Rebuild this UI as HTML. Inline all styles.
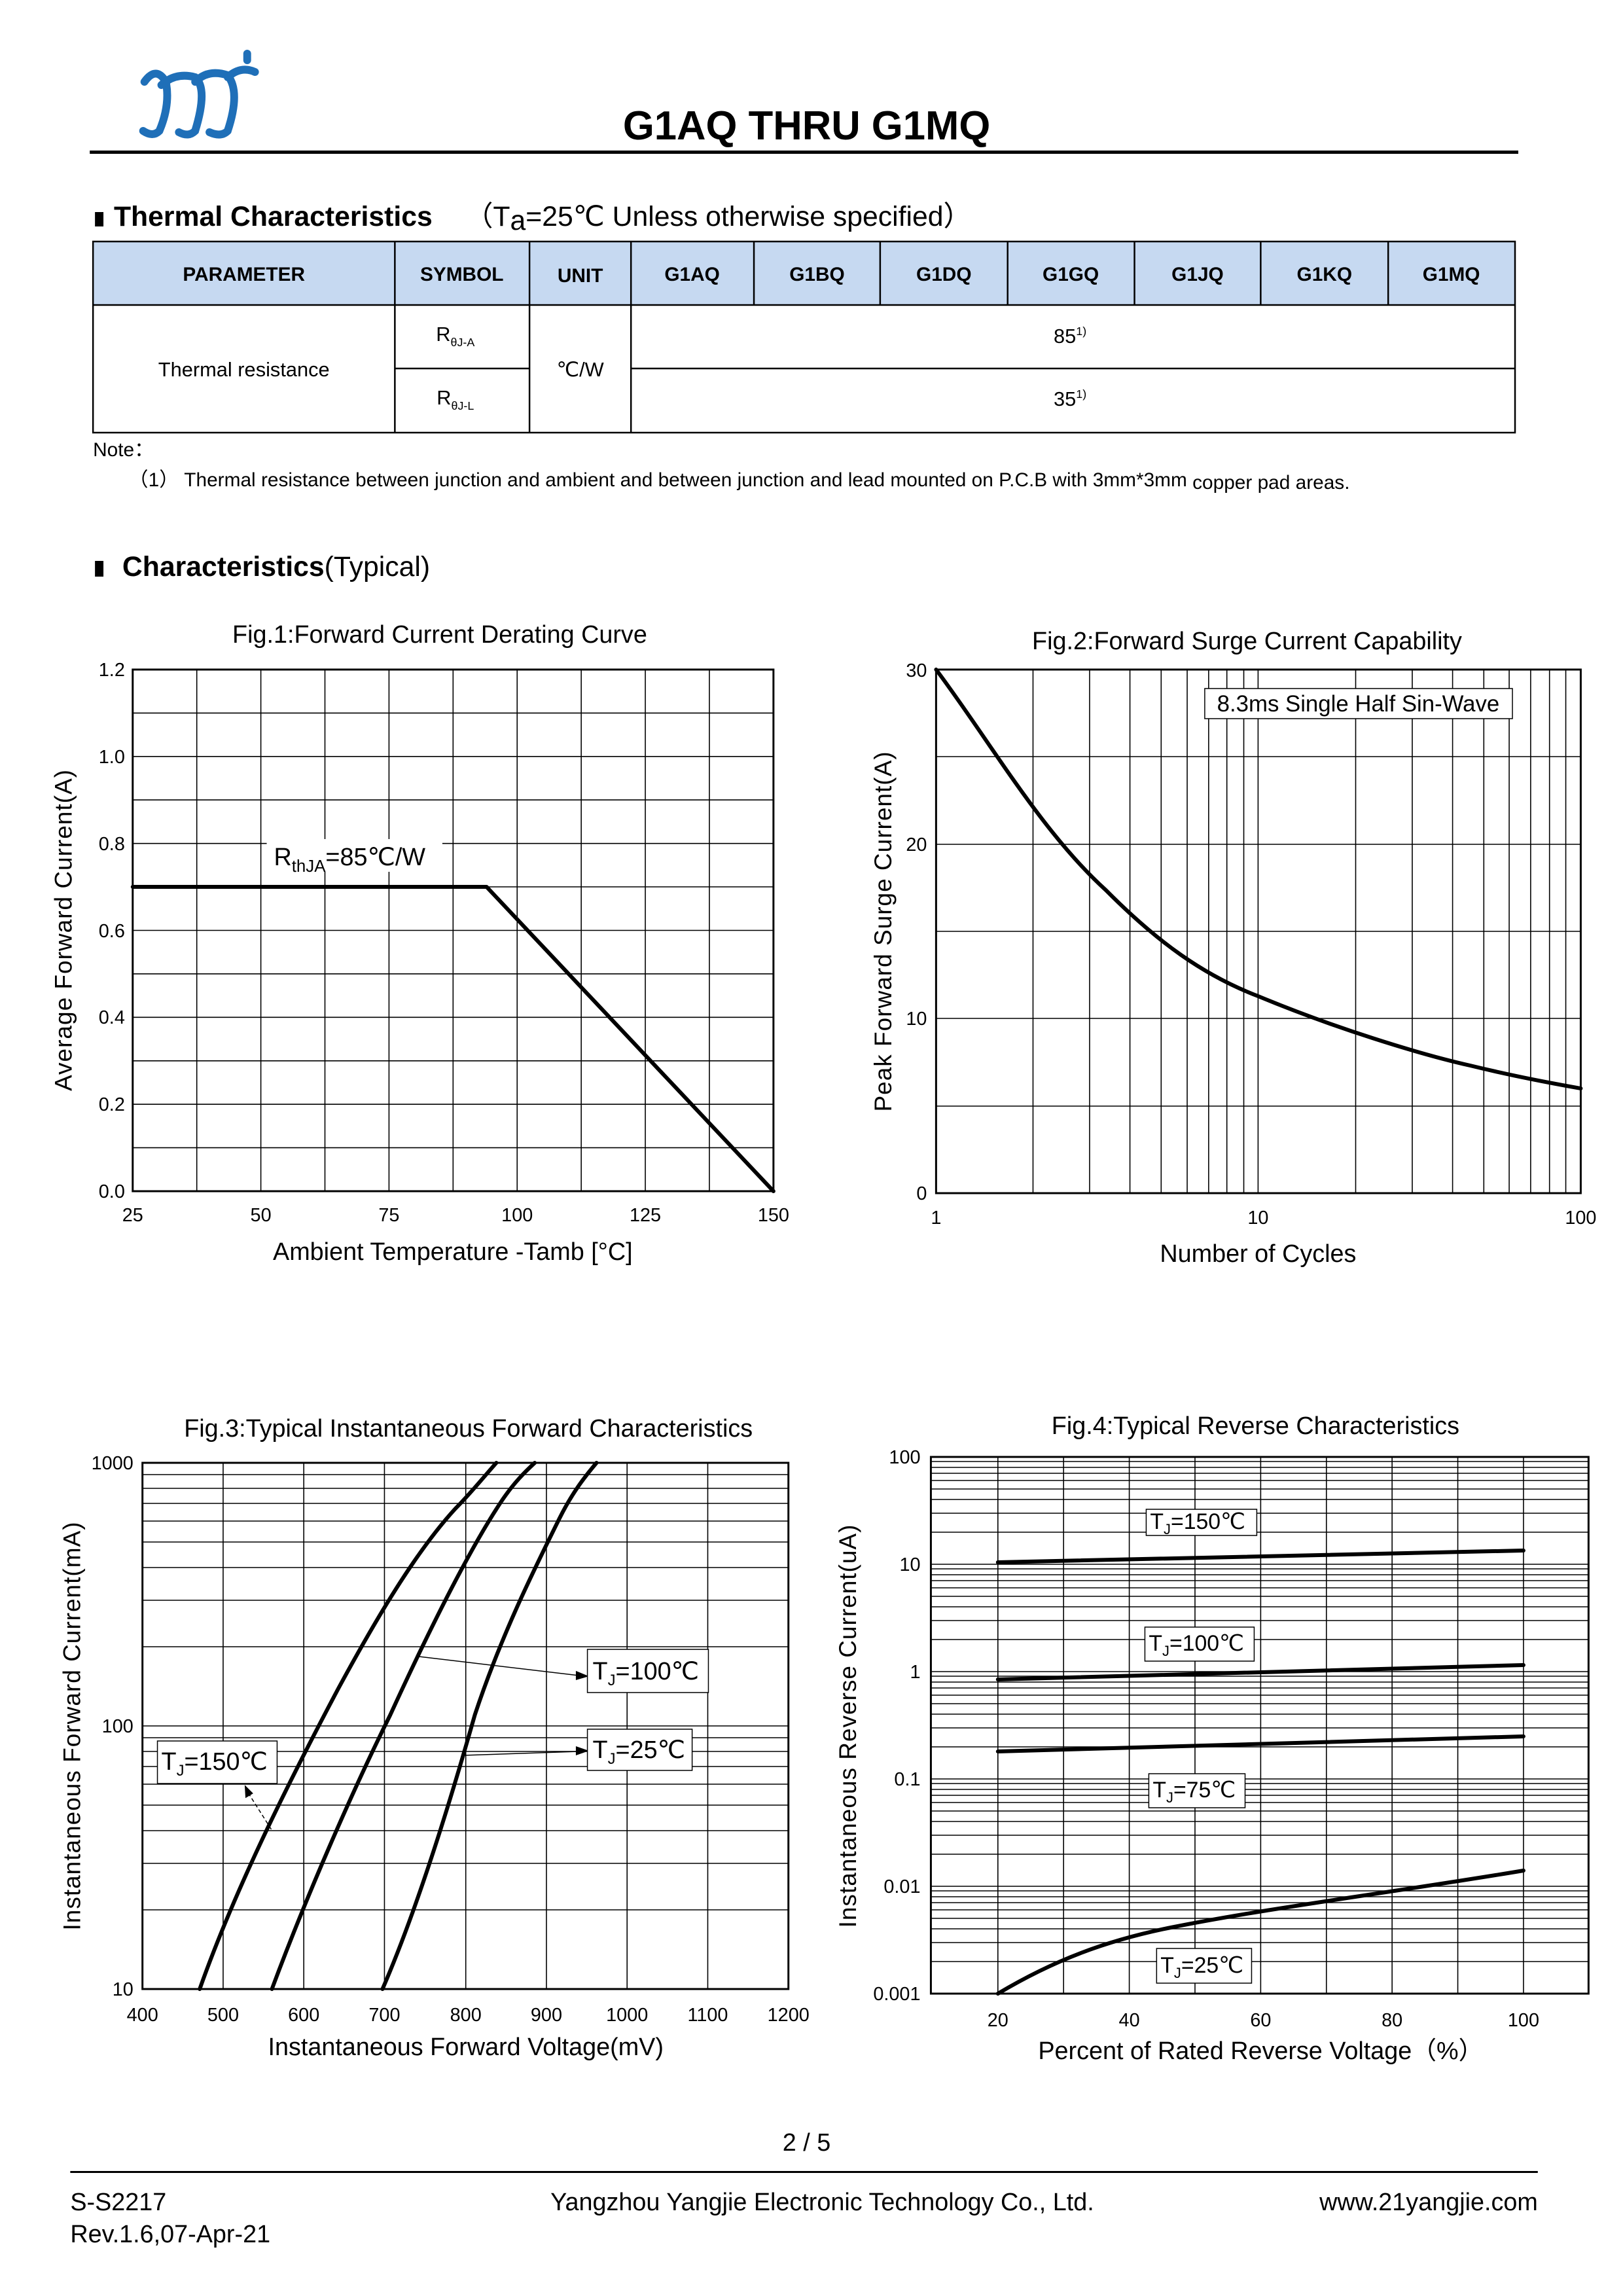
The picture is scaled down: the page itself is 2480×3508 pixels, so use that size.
<!DOCTYPE html>
<html><head><meta charset="utf-8"><style>
html,body{margin:0;padding:0;background:#fff}
svg{display:block}
text{font-family:"Liberation Sans",Arial,sans-serif;fill:#000}
.s{font-family:"Liberation Serif",serif;font-size:29px}
.g{stroke:#000;stroke-width:1.6;fill:none}
.c{stroke:#000;stroke-width:6;fill:none;stroke-linejoin:round;stroke-linecap:round}
</style></head><body>
<svg width="2480" height="3508" viewBox="0 0 2480 3508" xmlns="http://www.w3.org/2000/svg">
<g transform="scale(0.994 1)">
<!-- logo -->
<g stroke="#1f6fb8" stroke-width="12" fill="none" stroke-linecap="round">
<path d="M222 125 Q240 100 255 125 Q262 160 245 200 Q235 210 220 200"/>
<path d="M248 130 Q270 110 300 118 Q320 135 300 200 Q290 210 275 202"/>
<path d="M300 125 Q320 105 350 115 Q370 140 350 200 Q340 210 322 202"/>
<path d="M350 118 Q370 100 392 110"/>
<path d="M380 82 L380 92"/>
</g>
<text x="1240" y="213" font-size="62" font-weight="bold" text-anchor="middle">G1AQ THRU G1MQ</text>
<rect x="138" y="230" width="2196" height="5" fill="#000"/>
<rect x="146" y="324" width="13" height="22" fill="#000"/>
<text x="175" y="345" font-size="43" font-weight="bold">Thermal Characteristics</text>
<text x="715" y="345" font-size="43">（T<tspan font-size="43" dy="6">a</tspan><tspan dy="-6">=25℃ Unless otherwise specified）</tspan></text>
<rect x="143" y="369" width="2186" height="97" fill="#c6d9f1"/>
<g stroke="#000" stroke-width="2.5" fill="none">
<rect x="143" y="369" width="2186" height="292"/>
<line x1="143" y1="466" x2="2329" y2="466"/>
<line x1="607" y1="563" x2="814" y2="563"/>
<line x1="970" y1="563" x2="2329" y2="563"/>
<line x1="607" y1="369" x2="607" y2="661"/>
<line x1="814" y1="369" x2="814" y2="661"/>
<line x1="970" y1="369" x2="970" y2="661"/>
<line x1="1159" y1="369" x2="1159" y2="466"/>
<line x1="1353" y1="369" x2="1353" y2="466"/>
<line x1="1549" y1="369" x2="1549" y2="466"/>
<line x1="1744" y1="369" x2="1744" y2="466"/>
<line x1="1938" y1="369" x2="1938" y2="466"/>
<line x1="2134" y1="369" x2="2134" y2="466"/>
</g>
<g font-size="30" font-weight="bold" text-anchor="middle">
<text x="375" y="429">PARAMETER</text><text x="710" y="429">SYMBOL</text><text x="892" y="431">UNIT</text>
<text x="1064" y="429">G1AQ</text><text x="1256" y="429">G1BQ</text><text x="1451" y="429">G1DQ</text><text x="1646" y="429">G1GQ</text><text x="1841" y="429">G1JQ</text><text x="2036" y="429">G1KQ</text><text x="2231" y="429">G1MQ</text>
</g>
<g font-size="31" text-anchor="middle">
<text x="375" y="575">Thermal resistance</text>
<text x="892" y="575">℃/W</text>
<text x="700" y="521">R<tspan font-size="18" dy="8">θJ-A</tspan></text>
<text x="700" y="618">R<tspan font-size="18" dy="8">θJ-L</tspan></text>
<text x="1645" y="524">85<tspan font-size="18" dy="-12">1)</tspan></text>
<text x="1645" y="620">35<tspan font-size="18" dy="-12">1)</tspan></text>
</g>
<text x="143" y="697" font-size="30">Note：</text>
<text x="198" y="743" font-size="30">（1）  Thermal resistance between junction and ambient and between junction and lead mounted on P.C.B with 3mm*3mm <tspan dy="4">copper pad areas.</tspan></text>
<rect x="146" y="857" width="13" height="24" fill="#000"/>
<text x="188" y="880" font-size="43"><tspan font-weight="bold">Characteristics</tspan>(Typical)</text>

<!-- FIG 1 -->
<text x="676" y="982" font-size="38" text-anchor="middle">Fig.1:Forward Current Derating Curve</text>
<g class="g">
<path d="M302.5 1023V1820M401 1023V1820M499.5 1023V1820M598 1023V1820M696.5 1023V1820M795 1023V1820M893.5 1023V1820M992 1023V1820M1090.5 1023V1820"/>
<path d="M204 1753.6H1189M204 1687.2H1189M204 1620.8H1189M204 1554.3H1189M204 1487.9H1189M204 1421.5H1189M204 1355H1189M204 1288.7H1189M204 1222.2H1189M204 1155.8H1189M204 1089.4H1189"/>
</g>
<rect x="204" y="1023" width="985" height="797" fill="none" stroke="#000" stroke-width="3"/>
<path d="M204 1355H748L1189 1820" class="c"/>
<rect x="410" y="1282" width="270" height="50" fill="#fff"/>
<text x="421" y="1322" font-size="38">R<tspan font-size="26" dy="10">thJA</tspan><tspan dy="-10">=85℃/W</tspan></text>
<g class="s" text-anchor="end">
<text x="192" y="1830">0.0</text><text x="192" y="1697">0.2</text><text x="192" y="1564">0.4</text><text x="192" y="1432">0.6</text><text x="192" y="1299">0.8</text><text x="192" y="1166">1.0</text><text x="192" y="1033">1.2</text>
</g>
<g class="s" text-anchor="middle">
<text x="204" y="1866">25</text><text x="401" y="1866">50</text><text x="598" y="1866">75</text><text x="795" y="1866">100</text><text x="992" y="1866">125</text><text x="1189" y="1866">150</text>
</g>
<text transform="translate(110 1421) rotate(-90)" font-size="37" text-anchor="middle" letter-spacing="1">Average Forward Current(A)</text>
<text x="696" y="1925" font-size="38" text-anchor="middle">Ambient Temperature -Tamb [°C]</text>

<!-- FIG 2 -->
<text x="1917" y="992" font-size="38" text-anchor="middle">Fig.2:Forward Surge Current Capability</text>
<g class="g">
<path d="M1588 1023V1823M1675 1023V1823M1737 1023V1823M1785 1023V1823M1825 1023V1823M1858 1023V1823M1886 1023V1823M1912 1023V1823M1934 1023V1823M2084 1023V1823M2171 1023V1823M2233 1023V1823M2281 1023V1823M2320 1023V1823M2353 1023V1823M2382 1023V1823M2407 1023V1823"/>
<path d="M1439 1156H2430M1439 1290H2430M1439 1423H2430M1439 1556H2430M1439 1690H2430"/>
</g>
<rect x="1439" y="1023" width="991" height="800" fill="none" stroke="#000" stroke-width="3"/>
<path d="M1439 1023 C1520 1130 1600 1270 1700 1360 C1780 1440 1850 1490 1934 1522 C2050 1570 2180 1610 2260 1628 C2330 1645 2390 1656 2430 1663" class="c"/>
<rect x="1852" y="1052" width="473" height="46" fill="#fff" stroke="#000" stroke-width="1.5"/>
<text x="2088" y="1087" font-size="35" text-anchor="middle">8.3ms Single Half Sin-Wave</text>
<g class="s" text-anchor="end">
<text x="1425" y="1833">0</text><text x="1425" y="1566">10</text><text x="1425" y="1300">20</text><text x="1425" y="1034">30</text>
</g>
<g class="s" text-anchor="middle">
<text x="1439" y="1870">1</text><text x="1934" y="1870">10</text><text x="2430" y="1870">100</text>
</g>
<text transform="translate(1370 1423) rotate(-90)" font-size="37" text-anchor="middle" letter-spacing="1">Peak Forward Surge Current(A)</text>
<text x="1934" y="1928" font-size="38" text-anchor="middle">Number of Cycles</text>

<!-- FIG 3 -->
<text x="720" y="2195" font-size="38" text-anchor="middle">Fig.3:Typical Instantaneous Forward Characteristics</text>
<g class="g">
<path d="M343 2235V3039M467 2235V3039M591 2235V3039M716 2235V3039M840 2235V3039M964 2235V3039M1088 2235V3039"/>
<path d="M219 2918H1212M219 2847H1212M219 2797H1212M219 2758H1212M219 2726H1212M219 2699H1212M219 2676H1212M219 2655H1212M219 2637H1212M219 2516H1212M219 2445H1212M219 2395H1212M219 2356H1212M219 2324H1212M219 2297H1212M219 2274H1212M219 2253H1212"/>
</g>
<rect x="219" y="2235" width="993" height="804" fill="none" stroke="#000" stroke-width="3"/>
<g class="c">
<path d="M307 3039 C360 2890 440 2730 520 2580 C580 2470 640 2370 700 2305 C725 2280 745 2255 763 2235"/>
<path d="M418 3039 C470 2900 540 2740 600 2620 C660 2490 720 2370 770 2295 C790 2265 808 2248 822 2235"/>
<path d="M588 3039 C640 2920 690 2760 730 2620 C770 2500 820 2400 860 2320 C880 2280 900 2255 917 2235"/>
</g>
<g stroke="#000" stroke-width="1.5" fill="#000">
<line x1="644" y1="2531" x2="890" y2="2560"/><path d="M903 2561 L886 2554 L886 2566Z"/>
<line x1="711" y1="2682" x2="890" y2="2676"/><path d="M903 2675 L886 2669 L886 2681Z"/>
<line x1="417" y1="2795" x2="382" y2="2740" stroke-dasharray="6 4"/><path d="M377 2729 L378 2746 L388 2740Z"/>
</g>
<rect x="903" y="2520" width="186" height="66" fill="#fff" stroke="#000" stroke-width="1.5"/>
<text x="911" y="2566" font-size="38">T<tspan font-size="24" dy="9">J</tspan><tspan dy="-9">=100℃</tspan></text>
<rect x="903" y="2642" width="161" height="63" fill="#fff" stroke="#000" stroke-width="1.5"/>
<text x="911" y="2686" font-size="38">T<tspan font-size="24" dy="9">J</tspan><tspan dy="-9">=25℃</tspan></text>
<rect x="242" y="2660" width="184" height="65" fill="#fff" stroke="#000" stroke-width="1.5"/>
<text x="248" y="2704" font-size="38">T<tspan font-size="24" dy="9">J</tspan><tspan dy="-9">=150℃</tspan></text>
<g class="s" text-anchor="end">
<text x="205" y="3049">10</text><text x="205" y="2647">100</text><text x="205" y="2245">1000</text>
</g>
<g class="s" text-anchor="middle">
<text x="219" y="3088">400</text><text x="343" y="3088">500</text><text x="467" y="3088">600</text><text x="591" y="3088">700</text><text x="716" y="3088">800</text><text x="840" y="3088">900</text><text x="964" y="3088">1000</text><text x="1088" y="3088">1100</text><text x="1212" y="3088">1200</text>
</g>
<text transform="translate(123 2637) rotate(-90)" font-size="37" text-anchor="middle" letter-spacing="1">Instantaneous Forward Current(mA)</text>
<text x="716" y="3140" font-size="38" text-anchor="middle">Instantaneous Forward Voltage(mV)</text>

<!-- FIG 4 -->
<text x="1930" y="2191" font-size="38" text-anchor="middle">Fig.4:Typical Reverse Characteristics</text>
<g class="g">
<path d="M1534 2226V3046M1635 2226V3046M1736 2226V3046M1837 2226V3046M1938 2226V3046M2039 2226V3046M2140 2226V3046M2241 2226V3046M2342 2226V3046"/>
<path d="M1431 2997H2442M1431 2968H2442M1431 2947H2442M1431 2931H2442M1431 2918H2442M1431 2907H2442M1431 2898H2442M1431 2889H2442M1431 2882H2442
M1431 2833H2442M1431 2804H2442M1431 2783H2442M1431 2767H2442M1431 2754H2442M1431 2743H2442M1431 2734H2442M1431 2725H2442M1431 2718H2442
M1431 2669H2442M1431 2640H2442M1431 2619H2442M1431 2603H2442M1431 2590H2442M1431 2579H2442M1431 2570H2442M1431 2561H2442M1431 2554H2442
M1431 2505H2442M1431 2476H2442M1431 2455H2442M1431 2439H2442M1431 2426H2442M1431 2415H2442M1431 2406H2442M1431 2397H2442M1431 2390H2442
M1431 2341H2442M1431 2312H2442M1431 2291H2442M1431 2275H2442M1431 2262H2442M1431 2251H2442M1431 2242H2442M1431 2233H2442"/>
</g>
<rect x="1431" y="2226" width="1011" height="820" fill="none" stroke="#000" stroke-width="3"/>
<g class="c" stroke-width="7">
<path d="M1534 2387 L2342 2369"/>
<path d="M1534 2566 L2342 2544"/>
<path d="M1534 2676 L2342 2653"/>
<path d="M1534 3046 C1620 2995 1700 2965 1800 2945 C1950 2915 2150 2890 2342 2858"/>
</g>
<rect x="1762" y="2306" width="170" height="40" fill="#fff" stroke="#000" stroke-width="1.5"/>
<text x="1768" y="2336" font-size="34">T<tspan font-size="22" dy="8">J</tspan><tspan dy="-8">=150℃</tspan></text>
<rect x="1760" y="2486" width="168" height="52" fill="#fff" stroke="#000" stroke-width="1.5"/>
<text x="1766" y="2522" font-size="34">T<tspan font-size="22" dy="8">J</tspan><tspan dy="-8">=100℃</tspan></text>
<rect x="1766" y="2710" width="148" height="52" fill="#fff" stroke="#000" stroke-width="1.5"/>
<text x="1772" y="2746" font-size="34">T<tspan font-size="22" dy="8">J</tspan><tspan dy="-8">=75℃</tspan></text>
<rect x="1778" y="2977" width="146" height="53" fill="#fff" stroke="#000" stroke-width="1.5"/>
<text x="1784" y="3014" font-size="34">T<tspan font-size="22" dy="8">J</tspan><tspan dy="-8">=25℃</tspan></text>
<g class="s" text-anchor="end">
<text x="1415" y="3056">0.001</text><text x="1415" y="2892">0.01</text><text x="1415" y="2728">0.1</text><text x="1415" y="2564">1</text><text x="1415" y="2400">10</text><text x="1415" y="2236">100</text>
</g>
<g class="s" text-anchor="middle">
<text x="1534" y="3096">20</text><text x="1736" y="3096">40</text><text x="1938" y="3096">60</text><text x="2140" y="3096">80</text><text x="2342" y="3096">100</text>
</g>
<text transform="translate(1316 2637) rotate(-90)" font-size="37" text-anchor="middle" letter-spacing="1">Instantaneous Reverse Current(uA)</text>
<text x="1938" y="3146" font-size="38" text-anchor="middle">Percent of Rated Reverse Voltage（%）</text>

<!-- footer -->
<text x="1240" y="3286" font-size="38" text-anchor="middle">2 / 5</text>
<rect x="108" y="3317" width="2256" height="3" fill="#000"/>
<text x="108" y="3377" font-size="38">S-S2217</text>
<text x="108" y="3426" font-size="38">Rev.1.6,07-Apr-21</text>
<text x="1264" y="3377" font-size="38" text-anchor="middle">Yangzhou Yangjie Electronic Technology Co., Ltd.</text>
<text x="2364" y="3377" font-size="38" text-anchor="end">www.21yangjie.com</text>
</g>
</svg>
</body></html>
